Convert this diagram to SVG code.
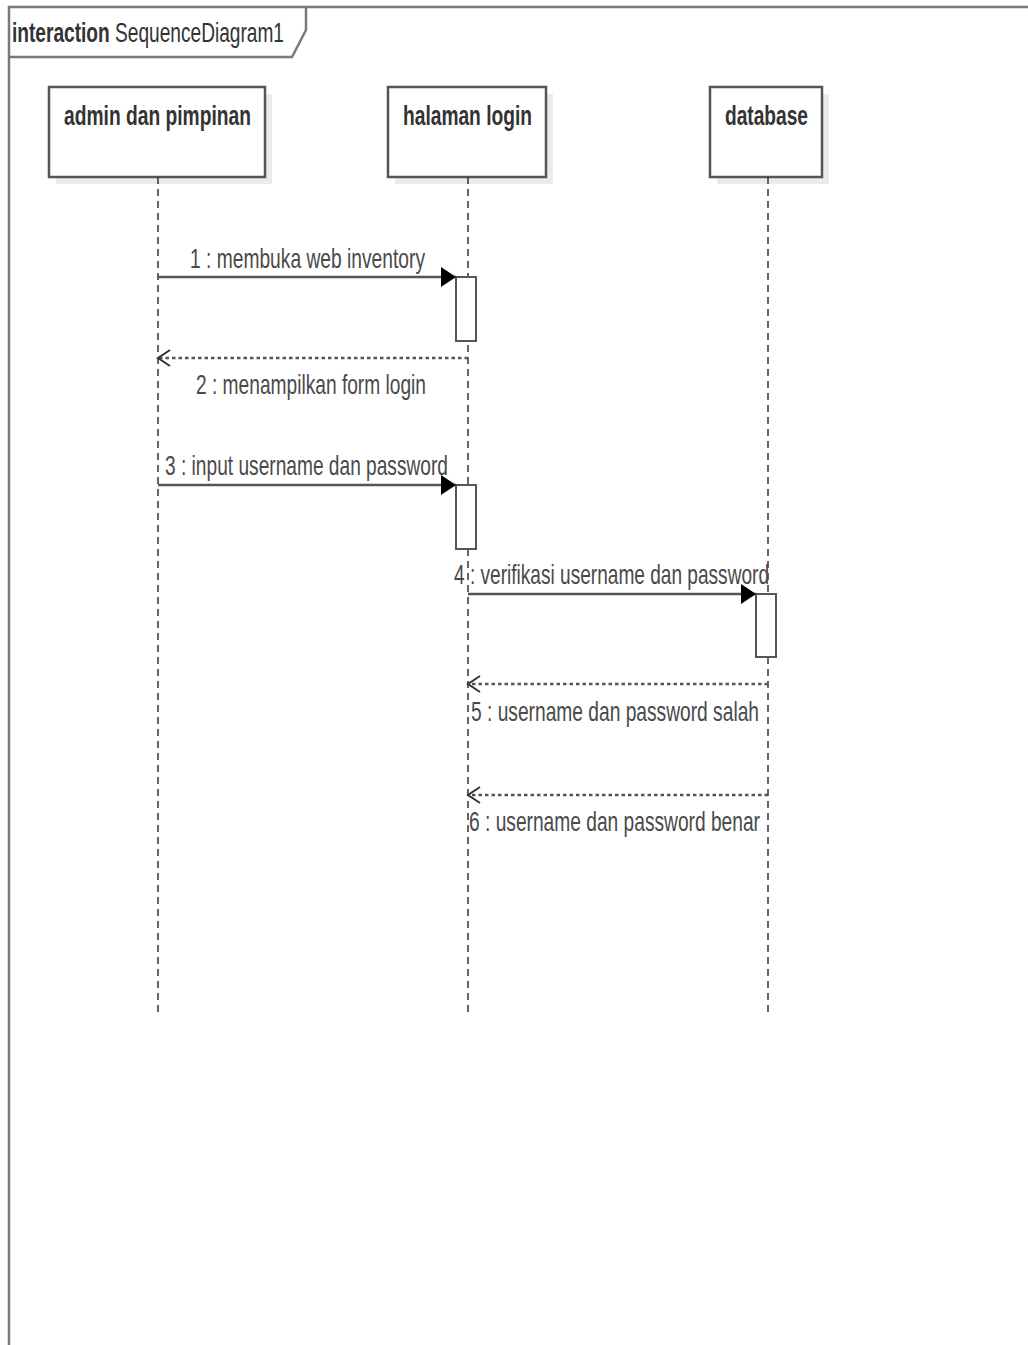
<svg xmlns="http://www.w3.org/2000/svg" width="1028" height="1345" viewBox="0 0 1028 1345">
  <style>
    .frame { fill: none; stroke: #7a7a7a; stroke-width: 2.5; }
    .box { fill: #ffffff; stroke: #555555; stroke-width: 2.5; }
    .shadow { fill: #ebebeb; }
    .life { stroke: #333333; stroke-width: 1.5; stroke-dasharray: 7 5; fill: none; }
    .act { fill: #ffffff; stroke: #555555; stroke-width: 2; }
    .msg { stroke: #555555; stroke-width: 2.5; fill: none; }
    .ret { stroke: #555555; stroke-width: 2.5; stroke-dasharray: 3.5 3; fill: none; }
    .lbl { font-family: "Liberation Sans", Arial, sans-serif; font-size: 28px; fill: #4a4a4a; }
    .name { font-family: "Liberation Sans", Arial, sans-serif; font-size: 27px; font-weight: bold; fill: #333333; }
    .title { font-family: "Liberation Sans", Arial, sans-serif; font-size: 27px; fill: #333333; }
  </style>
  <defs>
    <marker id="solidHead" markerWidth="16" markerHeight="20" refX="15" refY="10" orient="auto" markerUnits="userSpaceOnUse">
      <path d="M0,0 L15,10 L0,20 Z" fill="#000000"/>
    </marker>
    <marker id="openHead" markerWidth="16" markerHeight="20" refX="13" refY="10" orient="auto" markerUnits="userSpaceOnUse">
      <path d="M1,2 L13,10 L1,18" fill="none" stroke="#333333" stroke-width="2"/>
    </marker>
  </defs>

  <rect x="0" y="0" width="1028" height="1345" fill="#ffffff"/>

  <!-- interaction frame with name tab -->
  <g id="frame">
    <path class="frame" d="M1028,7 L9,7 L9,1345"/>
    <path class="frame" d="M9,57 L292,57 L306,30 L306,7"/>
    <text class="title" x="12" y="42" textLength="272" lengthAdjust="spacingAndGlyphs"><tspan font-weight="bold">interaction</tspan> SequenceDiagram1</text>
  </g>

  <!-- lifelines -->
  <g id="admin">
    <rect class="shadow" x="56" y="94" width="216" height="90"/>
    <rect class="box" x="49" y="87" width="216" height="90"/>
    <text class="name" x="64" y="125" textLength="187" lengthAdjust="spacingAndGlyphs">admin dan pimpinan</text>
    <line class="life" x1="158" y1="177" x2="158" y2="1012"/>
  </g>
  <g id="halaman-login">
    <rect class="shadow" x="395" y="94" width="158" height="90"/>
    <rect class="box" x="388" y="87" width="158" height="90"/>
    <text class="name" x="403" y="125" textLength="129" lengthAdjust="spacingAndGlyphs">halaman login</text>
    <line class="life" x1="468" y1="177" x2="468" y2="1012"/>
  </g>
  <g id="database">
    <rect class="shadow" x="717" y="94" width="112" height="90"/>
    <rect class="box" x="710" y="87" width="112" height="90"/>
    <text class="name" x="725" y="125" textLength="83" lengthAdjust="spacingAndGlyphs">database</text>
    <line class="life" x1="768" y1="177" x2="768" y2="1012"/>
  </g>

  <!-- activation bars -->
  <g id="activations">
    <rect class="act" x="456" y="277" width="20" height="64"/>
    <rect class="act" x="456" y="485" width="20" height="64"/>
    <rect class="act" x="756" y="594" width="20" height="63"/>
  </g>

  <!-- messages -->
  <g id="connectors">
    <line class="msg" x1="158" y1="277" x2="456" y2="277" marker-end="url(#solidHead)"/>
    <line class="ret" x1="468" y1="358" x2="158" y2="358" marker-end="url(#openHead)"/>
    <line class="msg" x1="158" y1="485" x2="456" y2="485" marker-end="url(#solidHead)"/>
    <line class="msg" x1="468" y1="594" x2="756" y2="594" marker-end="url(#solidHead)"/>
    <line class="ret" x1="768" y1="684" x2="468" y2="684" marker-end="url(#openHead)"/>
    <line class="ret" x1="768" y1="795" x2="468" y2="795" marker-end="url(#openHead)"/>
  </g>

  <g id="labels">
    <text class="lbl" x="190" y="268" textLength="235" lengthAdjust="spacingAndGlyphs">1 : membuka web inventory</text>
    <text class="lbl" x="196" y="394" textLength="230" lengthAdjust="spacingAndGlyphs">2 : menampilkan form login</text>
    <text class="lbl" x="165" y="475" textLength="283" lengthAdjust="spacingAndGlyphs">3 : input username dan password</text>
    <text class="lbl" x="454" y="584" textLength="315" lengthAdjust="spacingAndGlyphs">4 : verifikasi username dan password</text>
    <text class="lbl" x="471" y="721" textLength="288" lengthAdjust="spacingAndGlyphs">5 : username dan password salah</text>
    <text class="lbl" x="469" y="831" textLength="291" lengthAdjust="spacingAndGlyphs">6 : username dan password benar</text>
  </g>
</svg>
